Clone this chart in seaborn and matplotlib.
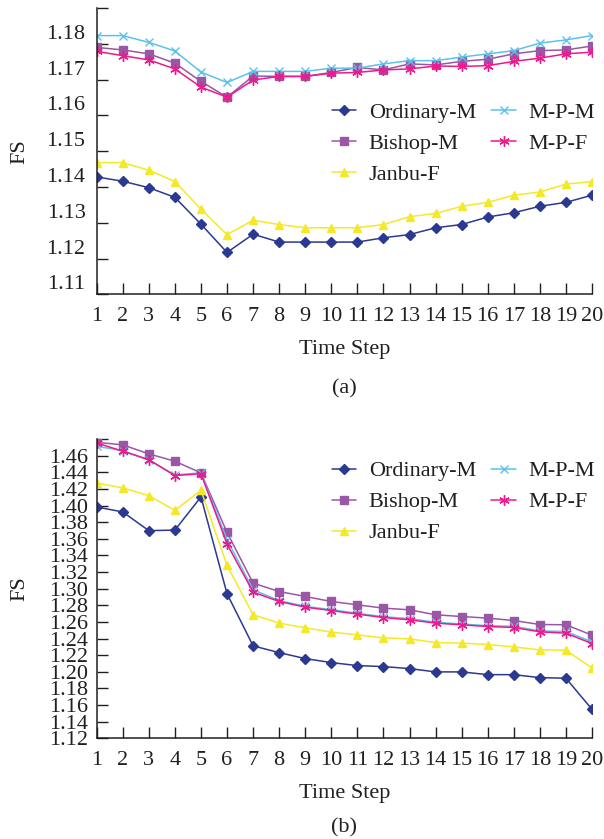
import matplotlib
matplotlib.use("Agg")
import matplotlib.pyplot as plt
import numpy as np
import pandas as pd
import seaborn as sns
from matplotlib.transforms import ScaledTranslation

# ---------------- data ----------------
steps = list(range(1, 21))
series_names = ["Ordinary-M", "Bishop-M", "Janbu-F", "M-P-M", "M-P-F"]

# panel (a)
a_ordinary = [1.1428, 1.1416, 1.1398, 1.1371, 1.1296, 1.1217, 1.1268, 1.1246, 1.1246, 1.1246,
              1.1246, 1.1258, 1.1267, 1.1286, 1.1295, 1.1316, 1.1328, 1.1346, 1.1357, 1.1377]
a_bishop = [1.1790, 1.1783, 1.1772, 1.1746, 1.1695, 1.1651, 1.1710, 1.1709, 1.1709, 1.1720,
            1.1734, 1.1727, 1.1744, 1.1741, 1.1751, 1.1757, 1.1772, 1.1781, 1.1783, 1.1794]
a_janbu = [1.1468, 1.1468, 1.1447, 1.1415, 1.1338, 1.1267, 1.1307, 1.1295, 1.1286, 1.1286,
           1.1286, 1.1295, 1.1317, 1.1326, 1.1346, 1.1357, 1.1377, 1.1386, 1.1408, 1.1415]
a_mpm = [1.1823, 1.1823, 1.1804, 1.1780, 1.1721, 1.1692, 1.1723, 1.1723, 1.1723, 1.1732,
         1.1732, 1.1744, 1.1753, 1.1753, 1.1763, 1.1772, 1.1781, 1.1802, 1.1811, 1.1823]
a_mpf = [1.1779, 1.1767, 1.1755, 1.1730, 1.1679, 1.1651, 1.1699, 1.1709, 1.1709, 1.1718,
         1.1720, 1.1727, 1.1730, 1.1738, 1.1737, 1.1739, 1.1751, 1.1760, 1.1772, 1.1777]

# panel (b)
b_ordinary = [1.3983, 1.3923, 1.3698, 1.3705, 1.4104, 1.2939, 1.2312, 1.2231, 1.2159, 1.2111,
              1.2075, 1.2063, 1.2039, 1.1999, 1.1999, 1.1966, 1.1966, 1.1930, 1.1923, 1.1549]
b_bishop = [1.4761, 1.4730, 1.4622, 1.4533, 1.4393, 1.3677, 1.3067, 1.2966, 1.2906, 1.2846,
            1.2806, 1.2766, 1.2746, 1.2686, 1.2665, 1.2646, 1.2617, 1.2569, 1.2566, 1.2441]
b_janbu = [1.4272, 1.4212, 1.4119, 1.3942, 1.4183, 1.3280, 1.2686, 1.2586, 1.2529, 1.2477,
           1.2445, 1.2408, 1.2396, 1.2352, 1.2345, 1.2328, 1.2300, 1.2264, 1.2260, 1.2047]
b_mpm = [1.4713, 1.4661, 1.4545, 1.4369, 1.4393, 1.3589, 1.2987, 1.2856, 1.2788, 1.2747,
         1.2704, 1.2663, 1.2640, 1.2596, 1.2575, 1.2555, 1.2548, 1.2491, 1.2485, 1.2360]
b_mpf = [1.4754, 1.4653, 1.4553, 1.4360, 1.4384, 1.3537, 1.2959, 1.2846, 1.2778, 1.2737,
         1.2694, 1.2653, 1.2625, 1.2586, 1.2565, 1.2545, 1.2533, 1.2481, 1.2465, 1.2340]

a_yticks = [1.11, 1.12, 1.13, 1.14, 1.15, 1.16, 1.17, 1.18, 1.19]
a_ylabels = ["1.11", "1.12", "1.13", "1.14", "1.15", "1.16", "1.17", "1.18", ""]
b_yticks = [1.12, 1.14, 1.16, 1.18, 1.20, 1.22, 1.24, 1.26, 1.28, 1.30, 1.32, 1.34, 1.36,
            1.38, 1.40, 1.42, 1.44, 1.46, 1.48]
b_ylabels = ["1.12", "1.14", "1.16", "1.18", "1.20", "1.22", "1.24", "1.26", "1.28", "1.30",
             "1.32", "1.34", "1.36", "1.38", "1.40", "1.42", "1.44", "1.46", ""]
xtick_labels = [str(s) for s in steps]

# ---------------- styles ----------------
colors = {"Ordinary-M": "#2B3990", "Bishop-M": "#9957A5", "Janbu-F": "#F4E928",
          "M-P-M": "#5DC2EA", "M-P-F": "#EC1A8C"}
markers = {"Ordinary-M": "D", "Bishop-M": "s", "Janbu-F": "^", "M-P-M": "x",
           "M-P-F": (6, 2, 0)}
msizes = {"Ordinary-M": 5.2, "Bishop-M": 5.6, "Janbu-F": 6.0, "M-P-M": 6.0, "M-P-F": 7.5}

sns.set_style("ticks")
plt.rcParams["font.family"] = ["Liberation Serif", "DejaVu Serif"]
TXT = "#231F20"
plt.rcParams["text.color"] = TXT
plt.rcParams["axes.labelcolor"] = TXT
plt.rcParams["xtick.color"] = TXT
plt.rcParams["ytick.color"] = TXT

fig = plt.figure(figsize=(6.04, 8.39), dpi=100)
ax_a = fig.add_axes([0.1601, 0.6492, 0.8200, 0.3412])
ax_b = fig.add_axes([0.1601, 0.1200, 0.8200, 0.3567])


def make_df(vals):
    rows = []
    for name, v in zip(series_names, vals):
        for s, y in zip(steps, v):
            rows.append({"step": s, "FS": y, "method": name})
    return pd.DataFrame(rows)


df_a = make_df([a_ordinary, a_bishop, a_janbu, a_mpm, a_mpf])
df_b = make_df([b_ordinary, b_bishop, b_janbu, b_mpm, b_mpf])


def draw(ax, df, yticks, ylabels, ylim, ylab_shift_px, ytick_pad, legend_anchor, panel, panel_y):
    for name in series_names:
        sub = df[df["method"] == name]
        sns.lineplot(data=sub, x="step", y="FS", ax=ax, color=colors[name],
                     marker=markers[name], markersize=msizes[name],
                     markeredgecolor=colors[name], markerfacecolor=colors[name],
                     markeredgewidth=1.0, linewidth=1.1, label=name, errorbar=None)
    ax.set_xlim(1, 20)
    ax.set_ylim(*ylim)
    ax.set_xticks(steps)
    ax.set_xticklabels(xtick_labels)
    ax.set_yticks(yticks)
    ax.set_yticklabels(ylabels)
    sns.despine(ax=ax)
    for sp in ("left", "bottom"):
        ax.spines[sp].set_linewidth(1.1)
        ax.spines[sp].set_color(TXT)
    ax.tick_params(axis="both", direction="in", length=7.8, width=1.0, labelsize=16)
    ax.tick_params(axis="x", pad=9)
    ax.tick_params(axis="y", pad=ytick_pad)
    ax.set_xlabel("Time Step", fontsize=16, labelpad=10)
    ax.set_ylabel("FS", fontsize=16)
    ax.yaxis.set_label_coords(-0.135, 0.5)
    if ylab_shift_px:
        off = ScaledTranslation(0, ylab_shift_px / 100.0, fig.dpi_scale_trans)
        for t in ax.yaxis.get_major_ticks():
            t.label1.set_transform(t.label1.get_transform() + off)
    ax.legend(ncol=2, loc="upper left", bbox_to_anchor=legend_anchor, frameon=False,
              fontsize=16, handlelength=1.1, handletextpad=0.55, columnspacing=0.7,
              labelspacing=0.47, borderaxespad=0, borderpad=0)
    ax.text(0.5, panel_y, panel, transform=ax.transAxes,
            ha="center", va="center", fontsize=16)
    ax.grid(False)


draw(ax_a, df_a, a_yticks, a_ylabels, (1.11, 1.19), 12, 8.0, (0.475, 0.672), "(a)", -0.33)
draw(ax_b, df_b, b_yticks, b_ylabels, (1.12, 1.48), 0, 6.5, (0.475, 0.927), "(b)", -0.298)

fig.savefig("out.png", dpi=100)
